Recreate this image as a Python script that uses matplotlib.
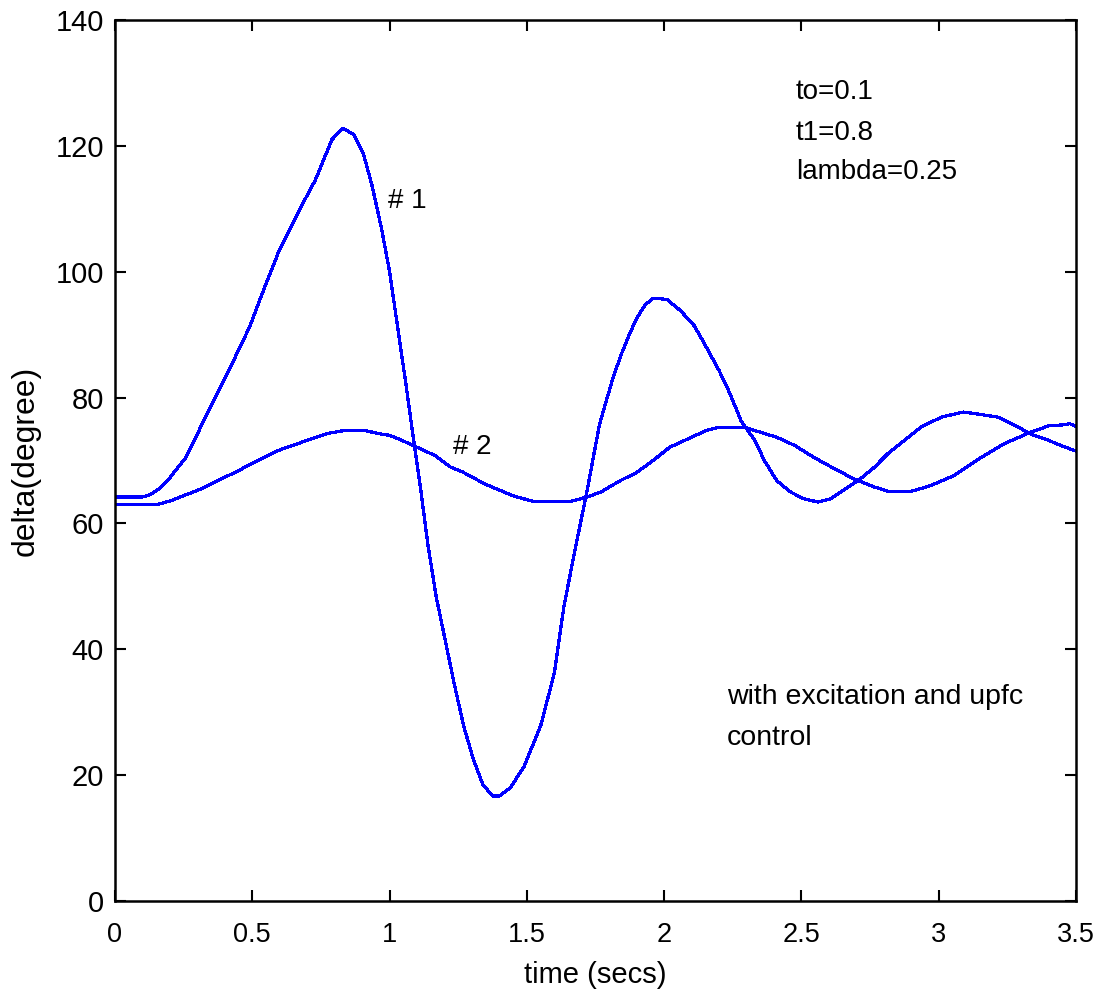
import matplotlib
matplotlib.use("Agg")
import matplotlib.pyplot as plt
from matplotlib import font_manager

# rotor angle response, machine 1 and machine 2
t1 = [0.00, 0.10, 0.13, 0.16, 0.19, 0.22, 0.255, 0.30, 0.33, 0.365,
      0.42, 0.49, 0.535, 0.60, 0.67, 0.73, 0.79, 0.83, 0.87, 0.905,
      0.935, 0.97, 1.00, 1.03, 1.06, 1.09, 1.11, 1.14, 1.17, 1.20,
      1.235, 1.27, 1.305, 1.34, 1.375, 1.40, 1.44, 1.49, 1.55, 1.60,
      1.635, 1.665, 1.695, 1.72, 1.745, 1.765, 1.79, 1.815, 1.845, 1.875,
      1.90, 1.93, 1.96, 2.01, 2.06, 2.11, 2.155, 2.20, 2.24, 2.28,
      2.33, 2.365, 2.41, 2.46, 2.51, 2.56, 2.605, 2.67, 2.715, 2.765,
      2.815, 2.875, 2.935, 3.01, 3.09, 3.14, 3.215, 3.29, 3.335, 3.40,
      3.45, 3.50]
delta1 = [64.2, 64.2, 64.6, 65.5, 66.7, 68.4, 70.3, 74.2, 77.0, 80.0,
          84.8, 91.2, 96.4, 103.6, 109.7, 114.6, 121.0, 122.8, 121.8, 118.7,
          113.9, 107.0, 100.0, 91.0, 82.0, 72.5, 66.5, 56.5, 48.3, 42.0,
          34.6, 27.8, 22.5, 18.5, 16.7, 16.7, 18.0, 21.4, 27.8, 36.2,
          46.8, 53.5, 60.0, 65.3, 71.2, 75.8, 79.6, 83.3, 87.0, 90.2,
          92.6, 94.7, 95.8, 95.6, 93.8, 91.4, 87.9, 84.3, 80.6, 76.3,
          73.2, 70.0, 66.8, 65.0, 63.9, 63.4, 63.9, 65.8, 67.1, 68.9,
          71.1, 73.2, 75.3, 76.9, 77.7, 77.4, 76.9, 75.3, 74.2, 73.2,
          72.3, 71.5]

t2 = [0.00, 0.155, 0.21, 0.255, 0.315, 0.375, 0.45, 0.52, 0.595, 0.68,
      0.775, 0.84, 0.905, 0.97, 1.00, 1.045, 1.08, 1.165, 1.22, 1.265,
      1.35, 1.40, 1.455, 1.525, 1.66, 1.72, 1.77, 1.84, 1.90, 1.96,
      2.02, 2.085, 2.155, 2.20, 2.29, 2.35, 2.41, 2.475, 2.545, 2.62,
      2.69, 2.765, 2.815, 2.90, 2.97, 3.055, 3.155, 3.24, 3.335, 3.40,
      3.465, 3.475, 3.50]
delta2 = [63.0, 63.0, 63.7, 64.5, 65.5, 66.8, 68.4, 70.0, 71.6, 72.9,
          74.3, 74.8, 74.8, 74.2, 74.0, 73.2, 72.5, 70.8, 69.0, 68.2,
          66.2, 65.3, 64.3, 63.5, 63.5, 64.2, 65.0, 66.8, 68.1, 70.0,
          72.1, 73.4, 74.8, 75.3, 75.3, 74.5, 73.7, 72.4, 70.5, 68.7,
          67.1, 65.8, 65.1, 65.1, 66.0, 67.6, 70.5, 72.7, 74.5, 75.5,
          75.7, 75.9, 75.4]

xticks = [0, 0.5, 1, 1.5, 2, 2.5, 3, 3.5]
xtick_labels = ["0", "0.5", "1", "1.5", "2", "2.5", "3", "3.5"]
yticks = [0, 20, 40, 60, 80, 100, 120, 140]

params = ["to=0.1", "t1=0.8", "lambda=0.25"]
note = ["with excitation and upfc", "control"]

installed = {f.name for f in font_manager.fontManager.ttflist}
regular = "Liberation Sans" if "Liberation Sans" in installed else "DejaVu Sans"
if "Liberation Sans Narrow" in installed:
    narrow, narrow_size = "Liberation Sans Narrow", 23
else:
    narrow, narrow_size = regular, 21

plt.rcParams['font.family'] = [regular, 'DejaVu Sans']

fig = plt.figure(figsize=(11.04, 9.97), dpi=100)
ax = fig.add_axes([115 / 1104, 96 / 997, 961 / 1104, 881 / 997])

ax.plot(t1, delta1, color=(0, 0, 1), lw=1.6, antialiased=False)
ax.plot(t2, delta2, color=(0, 0, 1), lw=1.6, antialiased=False)

ax.set_xlim(0, 3.5)
ax.set_ylim(0, 140)
ax.set_xticks(xticks)
ax.set_xticklabels(xtick_labels, fontsize=19.5)
ax.set_yticks(yticks)
ax.set_yticklabels([str(v) for v in yticks], fontsize=narrow_size, family=narrow)

ax.tick_params(axis='both', direction='in', length=8, width=1.5,
               top=True, right=True)
ax.tick_params(axis='x', pad=15)
ax.tick_params(axis='y', pad=8)
for sp in ax.spines.values():
    sp.set_linewidth(1.8)

ax.set_xlabel("time (secs)", fontsize=21)
ax.xaxis.set_label_coords(0.5, -0.084)
ax.xaxis.label.set_va('center')
ax.set_ylabel("delta(degree)", fontsize=23)
ax.yaxis.set_label_coords(-0.0926, 0.5)
ax.yaxis.label.set_va('center')

# parameter block in the upper right
for txt, yb in zip(params, [127.4, 120.9, 114.8]):
    ax.text(2.48, yb, txt, fontsize=20, va='baseline', ha='left')

ax.text(0.994, 110.1, "# 1", fontsize=20, va='baseline', ha='left')
ax.text(1.230, 71.1, "# 2", fontsize=20, va='baseline', ha='left')

for txt, yb in zip(note, [31.3, 24.8]):
    ax.text(2.228, yb, txt, fontsize=20.5, va='baseline', ha='left')

fig.savefig("out.png", dpi=100)
